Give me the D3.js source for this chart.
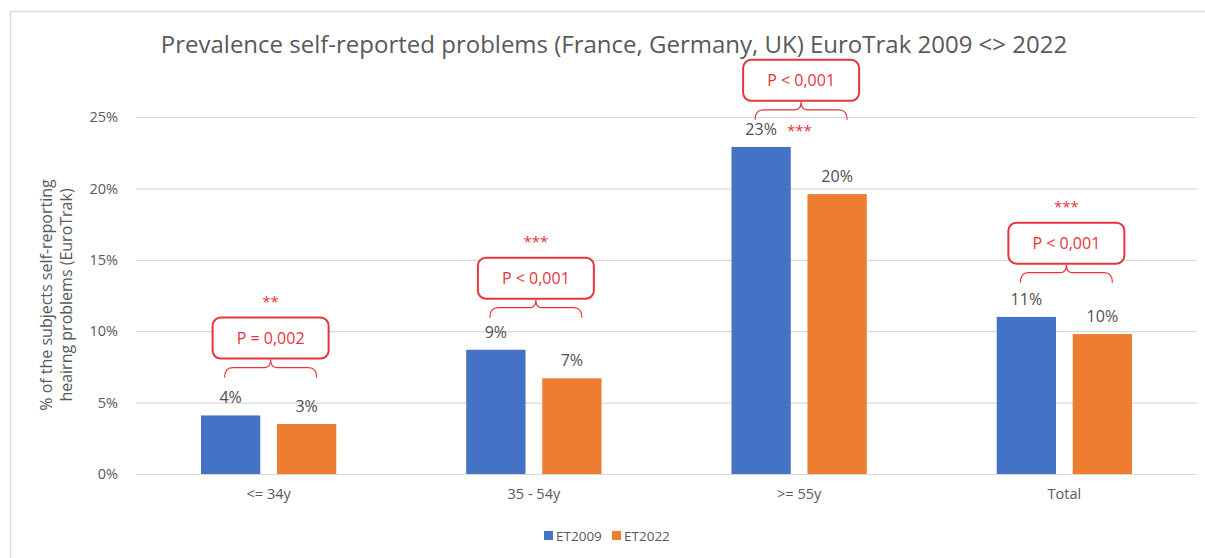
<!DOCTYPE html>
<html><head><meta charset="utf-8">
<script src="https://cdn.jsdelivr.net/npm/d3@7"></script>
<style>
html,body{margin:0;padding:0;background:#fff;}
svg{display:block;font-family:"Open Sans",sans-serif;}
</style></head>
<body>
<svg id="chart" width="1205" height="558"></svg>
<script>
const categories = ["<= 34y", "35 - 54y", ">= 55y", "Total"];
const seriesNames = ["ET2009", "ET2022"];
const et2009 = [4.1, 8.7, 22.9, 11.0];
const et2022 = [3.5, 6.7, 19.6, 9.8];
const labels2009 = ["4%", "9%", "23%", "11%"];
const labels2022 = ["3%", "7%", "20%", "10%"];
const pTexts = ["P = 0,002", "P < 0,001", "P < 0,001", "P < 0,001"];
const stars = ["**", "***", "***", "***"];
const braceLevel = [7.45, 11.65, 25.5, 14.1];
const yTicks = [0, 5, 10, 15, 20, 25];
const colors = ["#4472C4", "#ED7D31"];

const svg = d3.select("#chart");
const red = "#E8343C";
const grey = "#595959";

// frame
svg.append("line").attr("x1",10.5).attr("x2",10.5).attr("y1",11).attr("y2",558).attr("stroke","#d9d9d9").attr("stroke-width",1.5);
svg.append("line").attr("x1",10).attr("x2",1205).attr("y1",11.5).attr("y2",11.5).attr("stroke","#d9d9d9").attr("stroke-width",1.5);

const plot = {left:136, right:1197, top:117, bottom:474};
const y = d3.scaleLinear().domain([0,25]).range([plot.bottom, plot.top]);
const x0 = d3.scaleBand().domain(categories).range([plot.left, plot.right]).paddingInner(0.49).paddingOuter(0.245);
const x1 = d3.scaleBand().domain(seriesNames).range([0, x0.bandwidth()]).paddingInner(0.22);

// title
svg.append("text").attr("x", 614).attr("y", 53).attr("text-anchor","middle")
  .attr("font-size", 24).attr("fill", grey)
  .text("Prevalence self-reported problems (France, Germany, UK) EuroTrak 2009 <> 2022");

// grid + y axis
const yAxis = d3.axisLeft(y).tickValues(yTicks).tickFormat(d => d + "%").tickSize(-(plot.right - plot.left)).tickPadding(18);
const ga = svg.append("g").attr("transform", `translate(${plot.left},0)`).call(yAxis);
ga.select(".domain").remove();
ga.selectAll(".tick line").attr("stroke","#d9d9d9").attr("stroke-width",1.2);
ga.selectAll(".tick text").attr("fill",grey).attr("font-size",14.5).attr("font-family","Open Sans, sans-serif");

// x axis labels
const xAxis = d3.axisBottom(x0).tickSize(0).tickPadding(15);
const gx = svg.append("g").attr("transform", `translate(0,${plot.bottom})`).call(xAxis);
gx.select(".domain").remove();
gx.selectAll(".tick text").attr("fill",grey).attr("font-size",14.5).attr("font-family","Open Sans, sans-serif");

// y axis title
const yt = svg.append("text").attr("transform","translate(52,295) rotate(-90)").attr("text-anchor","middle")
  .attr("font-size",16).attr("fill",grey);
yt.append("tspan").attr("x",0).attr("dy",0).text("% of the subjects self-reporting");
yt.append("tspan").attr("x",0).attr("dy",20).text("heairng problems (EuroTrak)");

// bars
const rows = categories.map((c,i) => ({cat:c, vals:[et2009[i], et2022[i]], labs:[labels2009[i], labels2022[i]]}));
const groups = svg.append("g").selectAll("g").data(rows).join("g")
  .attr("transform", d => `translate(${x0(d.cat)},0)`);
groups.selectAll("rect").data(d => d.vals.map((v,j) => ({s:seriesNames[j], v, j})))
  .join("rect")
  .attr("x", d => x1(d.s)).attr("width", x1.bandwidth())
  .attr("y", d => y(d.v)).attr("height", d => y(0) - y(d.v))
  .attr("fill", d => colors[d.j]);
groups.selectAll("text.lab").data(d => d.vals.map((v,j) => ({s:seriesNames[j], v, j, t:d.labs[j]})))
  .join("text").attr("class","lab")
  .attr("x", d => x1(d.s) + x1.bandwidth()/2).attr("y", d => y(d.v) - 12)
  .attr("text-anchor","middle").attr("font-size",16).attr("fill","#505050")
  .text(d => d.t);

// annotations: brace + box + stars
categories.forEach((c,i) => {
  const cx = x0(c) + x0.bandwidth()/2 + 2;
  const by = y(braceLevel[i]);
  const halfW = 46;
  const g = svg.append("g");
  const path = `M${cx-halfW},${by+10} Q${cx-halfW},${by} ${cx-halfW+8},${by} L${cx-6},${by} Q${cx},${by} ${cx},${by-8} Q${cx},${by} ${cx+6},${by} L${cx+halfW-8},${by} Q${cx+halfW},${by} ${cx+halfW},${by+10}`;
  g.append("path").attr("d", path).attr("fill","none").attr("stroke", red).attr("stroke-width",1.2);
  const bw = 116, bh = 41;
  const boxBottom = by - 9;
  g.append("rect").attr("x", cx - bw/2).attr("y", boxBottom - bh).attr("width", bw).attr("height", bh)
    .attr("rx", 8).attr("fill","#fff").attr("stroke", red).attr("stroke-width",2);
  g.append("text").attr("x", cx).attr("y", boxBottom - bh/2 + 6).attr("text-anchor","middle")
    .attr("font-size",16).attr("fill", red).text(pTexts[i]);
  if (i === 2) {
    g.append("text").attr("x", x0(c) + x1(seriesNames[1]) - 8).attr("y", y(et2009[i]) - 11)
      .attr("text-anchor","middle").attr("font-size",15).attr("fill", red).text(stars[i]);
  } else {
    g.append("text").attr("x", cx).attr("y", boxBottom - bh - 11).attr("text-anchor","middle")
      .attr("font-size",15).attr("fill", red).text(stars[i]);
  }
});

// legend
const lg = svg.append("g").attr("transform","translate(544,536)");
const items = lg.selectAll("g").data(seriesNames).join("g").attr("transform",(d,i)=>`translate(${i*68},0)`);
items.append("rect").attr("x",0).attr("y",-5).attr("width",9).attr("height",9).attr("fill",(d,i)=>colors[i]);
items.append("text").attr("x",12).attr("y",5).attr("font-size",13.5).attr("fill",grey).text(d=>d);
</script>
</body></html>
